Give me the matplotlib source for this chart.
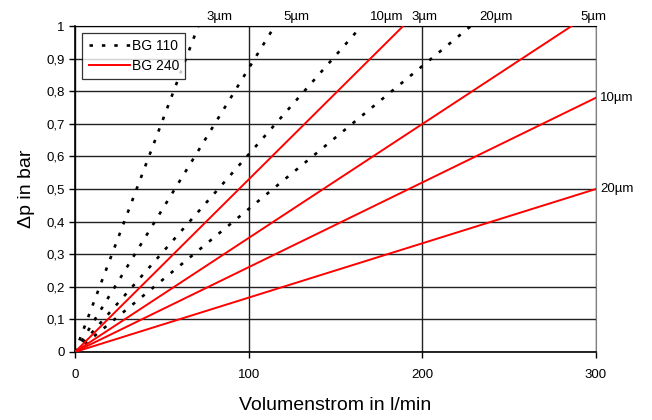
import matplotlib.pyplot as plt
from matplotlib.ticker import FixedLocator, FuncFormatter

plt.rcParams['font.family'] = ['Liberation Sans', 'DejaVu Sans']

# BG 110 (dotted black): flow in l/min where dp reaches 1 bar
bg110_labels = ['3µm', '5µm', '10µm', '20µm']
bg110_end_flow = [71, 115, 165, 228]
bg110_end_dp = [1.0, 1.0, 1.0, 1.0]

# BG 240 (red): end points of each line
bg240_labels = ['3µm', '5µm', '10µm', '20µm']
bg240_end_flow = [189, 286, 300, 300]
bg240_end_dp = [1.0, 1.0, 0.78, 0.5]

x_ticks = [0, 100, 200, 300]
y_ticks = [0, 0.1, 0.2, 0.3, 0.4, 0.5, 0.6, 0.7, 0.8, 0.9, 1.0]

dot_style = (0, (1.3, 3.4))

fig = plt.figure(figsize=(6.52, 4.2), dpi=100)
ax = fig.add_axes([0.115, 0.162, 0.799, 0.776])

for i, (fx, dy) in enumerate(zip(bg110_end_flow, bg110_end_dp)):
    ax.plot([0, fx], [0, dy], color='black', lw=1.9,
            linestyle=dot_style, dash_capstyle='butt',
            label='BG 110' if i == 0 else None, zorder=3)
    ax.annotate(bg110_labels[i], (fx, dy), xytext=(6, 4), textcoords='offset points',
                ha='left', va='baseline', fontsize=9.5, annotation_clip=False)

for i, (fx, dy) in enumerate(zip(bg240_end_flow, bg240_end_dp)):
    ax.plot([0, fx], [0, dy], color='#ff0000', lw=1.4,
            label='BG 240' if i == 0 else None, zorder=3)
    if dy >= 1.0:
        ax.annotate(bg240_labels[i], (fx, dy), xytext=(6, 4), textcoords='offset points',
                    ha='left', va='baseline', fontsize=9.5, annotation_clip=False)
    else:
        ax.annotate(bg240_labels[i], (fx, dy), xytext=(3, 0), textcoords='offset points',
                    ha='left', va='center', fontsize=9.5, annotation_clip=False)

ax.set_xlim(0, 300)
ax.set_ylim(0, 1)
ax.xaxis.set_major_locator(FixedLocator(x_ticks))
ax.yaxis.set_major_locator(FixedLocator(y_ticks))
ax.yaxis.set_major_formatter(FuncFormatter(lambda v, p: ('%g' % round(v, 1)).replace('.', ',')))

ax.grid(True, color='#222222', lw=1.0)
ax.set_axisbelow(True)
for s in ['left', 'bottom']:
    ax.spines[s].set_color('black')
    ax.spines[s].set_linewidth(1.2)
ax.spines['right'].set_color('#808080')
ax.spines['top'].set_color('black')
ax.tick_params(direction='out', length=4, width=1, labelsize=9.5, color='black')
ax.tick_params(axis='x', pad=8)

ax.set_xlabel('Volumenstrom in l/min', fontsize=14, labelpad=12)
ax.set_ylabel('Δp in bar', fontsize=14, labelpad=8)

leg = ax.legend(loc='upper left', bbox_to_anchor=(0.014, 0.98), borderaxespad=0,
                fontsize=10, frameon=True, fancybox=False, edgecolor='black',
                handlelength=3.0, handletextpad=0.1, borderpad=0.45, labelspacing=0.45)
leg.get_frame().set_linewidth(0.9)

fig.savefig('out.png', dpi=100)
